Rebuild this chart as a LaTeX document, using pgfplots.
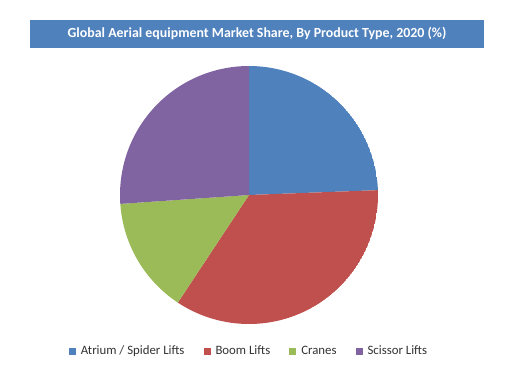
\documentclass[border=0pt]{standalone}
\usepackage{pgfplots}
\pgfplotsset{compat=1.18}
\usepgfplotslibrary{polar}
\usepackage{fontspec}
\setmainfont{Carlito}
\definecolor{cA}{HTML}{4F81BD}
\definecolor{cB}{HTML}{C0504D}
\definecolor{cC}{HTML}{9BBB59}
\definecolor{cD}{HTML}{8064A2}
% shares (%)
\def\pA{24.4}\def\pB{34.9}\def\pC{14.6}\def\pD{26.1}
\pgfmathsetmacro\aO{90}
\pgfmathsetmacro\aA{\aO-\pA*3.6}
\pgfmathsetmacro\aB{\aA-\pB*3.6}
\pgfmathsetmacro\aC{\aB-\pC*3.6}
\pgfmathsetmacro\aD{\aC-\pD*3.6}
\begin{document}
\begin{tikzpicture}[x=1pt,y=1pt]
\path[use as bounding box] (0,0) rectangle (526,385);
\fill[cA] (30,337) rectangle (484,365);
\node[text=white, font=\fontsize{13.9}{16}\selectfont\bfseries] at (257,351.5) {Global Aerial equipment Market Share, By Product Type, 2020 (\%)};
\begin{polaraxis}[at={(249pt,190pt)}, anchor=origin, scale only axis, width=258pt, height=258pt,
  hide axis, ymin=0, ymax=1,
  legend image code/.code={\fill[#1] (0pt,-3.5pt) rectangle (7pt,3.5pt);},
  legend style={at={(0.5,-0.105)}, anchor=center, draw=none, legend columns=4,
    font=\fontsize{12.8}{15}\selectfont, text=black!80,
    /tikz/every odd column/.append style={column sep=3pt},
    /tikz/every even column/.append style={column sep=17pt}},
  legend cell align=left]
\addplot[fill=cA, draw=none, domain=\aA:\aO, samples=80] {1} -- (axis cs:0,0) -- cycle;
\addlegendentry{Atrium / Spider Lifts}
\addplot[fill=cB, draw=none, domain=\aB:\aA, samples=80] {1} -- (axis cs:0,0) -- cycle;
\addlegendentry{Boom Lifts}
\addplot[fill=cC, draw=none, domain=\aC:\aB, samples=80] {1} -- (axis cs:0,0) -- cycle;
\addlegendentry{Cranes}
\addplot[fill=cD, draw=none, domain=\aD:\aC, samples=80] {1} -- (axis cs:0,0) -- cycle;
\addlegendentry{Scissor Lifts}
\end{polaraxis}
\end{tikzpicture}
\end{document}
